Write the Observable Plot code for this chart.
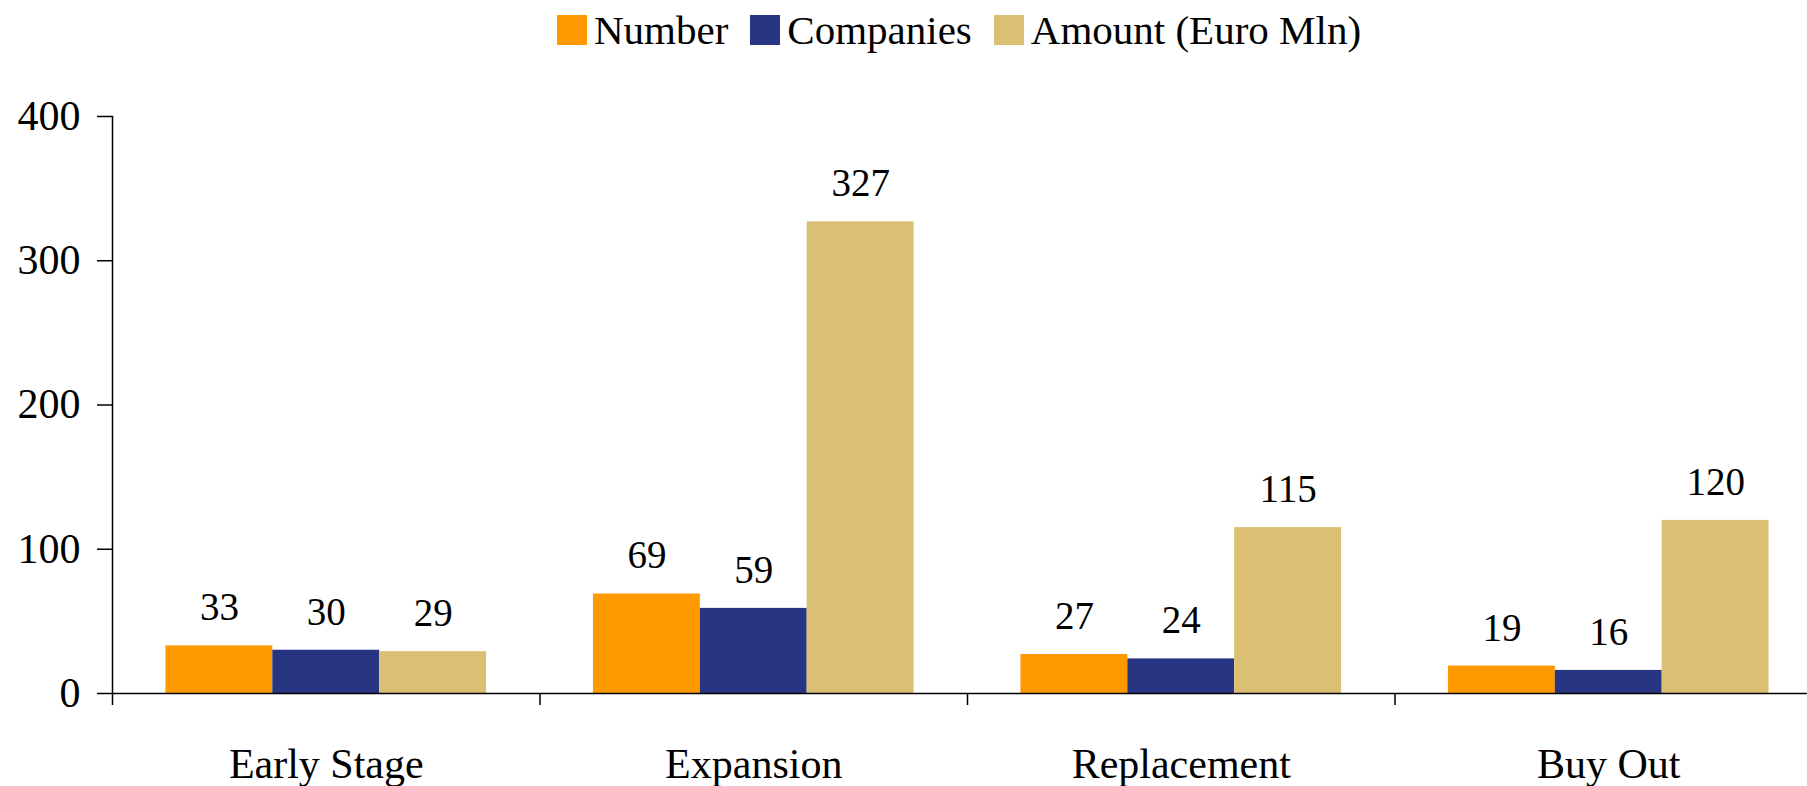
<!DOCTYPE html>
<html>
<head>
<meta charset="utf-8">
<script src="https://cdn.jsdelivr.net/npm/d3@7"></script>
<script src="https://cdn.jsdelivr.net/npm/@observablehq/plot@0.6"></script>
<style>
  html, body { margin: 0; padding: 0; background: #fff; }
  body { width: 1807px; height: 786px; overflow: hidden; font-family: "Liberation Serif", "Times New Roman", serif; color: #000; }
  #legend { height: 60px; display: flex; align-items: center; justify-content: center; padding-left: 111px; box-sizing: border-box; font-size: 41px; }
  #legend .item { display: flex; align-items: center; margin: 0 11px; }
  #legend .sw { width: 30px; height: 30px; margin-right: 7px; }
  #chart svg { display: block; }
</style>
</head>
<body>
<div id="legend"></div>
<div id="chart"></div>
<script>
const categories = ["Early Stage", "Expansion", "Replacement", "Buy Out"];
const seriesNames = ["Number", "Companies", "Amount (Euro Mln)"];
const numberValues = [33, 69, 27, 19];
const companiesValues = [30, 59, 24, 16];
const amountValues = [29, 327, 115, 120];
const yTicks = [0, 100, 200, 300, 400];
const seriesColors = ["#ff9900", "#283582", "#dbc074"];

const seriesValues = [numberValues, companiesValues, amountValues];
const data = [];
categories.forEach((c, i) => {
  seriesNames.forEach((s, j) => {
    data.push({category: c, series: s, value: seriesValues[j][i]});
  });
});

// legend
const legend = document.getElementById("legend");
seriesNames.forEach((s, j) => {
  const item = document.createElement("div");
  item.className = "item";
  const sw = document.createElement("span");
  sw.className = "sw";
  sw.style.background = seriesColors[j];
  const t = document.createElement("span");
  t.textContent = s;
  item.appendChild(sw);
  item.appendChild(t);
  legend.appendChild(item);
});

const width = 1807;
const height = 726;
const marginLeft = 112;
const marginRight = -15;
const bandStep = (width - marginRight - marginLeft) / categories.length;

const chart = Plot.plot({
  width,
  height,
  marginLeft,
  marginRight,
  marginTop: 56,
  marginBottom: 93,
  style: {fontFamily: "Liberation Serif, Times New Roman, serif", fontSize: "42px", color: "#000", background: "#fff"},
  fx: {domain: categories, padding: 0, round: false, axis: null},
  x: {domain: seriesNames, paddingInner: 0, paddingOuter: 0.5, round: false, axis: null},
  y: {domain: [0, 400], axis: null},
  color: {domain: seriesNames, range: seriesColors},
  marks: [
    Plot.barY(data, {fx: "category", x: "series", y: "value", fill: "series", inset: 0}),
    Plot.text(data, {fx: "category", x: "series", y: "value", text: d => String(d.value), dy: -38, fontSize: 39, fill: "#000"}),
    Plot.ruleY([0], {stroke: "#000", strokeWidth: 1.5}),
    Plot.frame({anchor: "left", facetAnchor: "left", stroke: "#000", strokeWidth: 1.5}),
    Plot.axisY({ticks: yTicks, tickSize: 15, tickPadding: 17, strokeWidth: 1.5, stroke: "#000", fill: "#000", label: null}),
    Plot.axisFx({anchor: "bottom", tickSize: 12, tickFormat: () => "", dx: -bandStep / 2, strokeWidth: 1.5, stroke: "#000", label: null}),
    Plot.axisFx({anchor: "bottom", tickSize: 0, tickPadding: 55, fill: "#000", label: null})
  ]
});
document.getElementById("chart").appendChild(chart);
</script>
</body>
</html>
